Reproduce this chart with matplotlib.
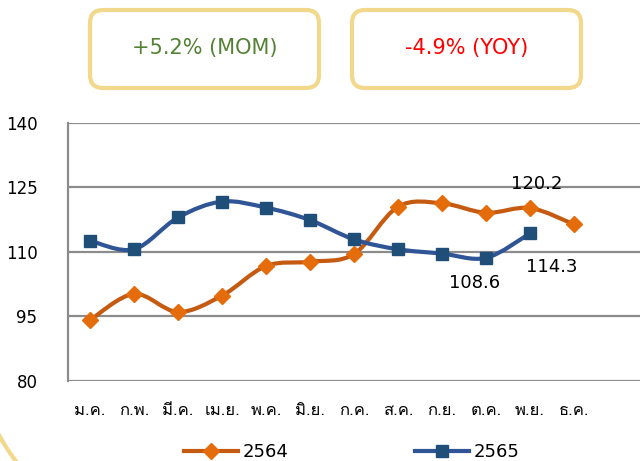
import numpy as np
import matplotlib
matplotlib.use("Agg")
import matplotlib.pyplot as plt
from matplotlib import font_manager as fm
from matplotlib.ft2font import FT2Font
from matplotlib.path import Path
from matplotlib.patches import PathPatch, FancyBboxPatch
from matplotlib.lines import Line2D

months = ["ม.ค.", "ก.พ.", "มี.ค.", "เม.ย.", "พ.ค.", "มิ.ย.", "ก.ค.", "ส.ค.", "ก.ย.", "ต.ค.", "พ.ย.", "ธ.ค."]
s2564 = [94.1, 100.2, 96.0, 99.8, 106.7, 107.7, 109.5, 120.5, 121.3, 119.1, 120.2, 116.4]
s2565 = [112.6, 110.6, 118.0, 121.7, 120.3, 117.4, 112.9, 110.6, 109.6, 108.6, 114.3]
yticks = [80, 95, 110, 125, 140]
mom_text = "+5.2% (MOM)"
yoy_text = "-4.9% (YOY)"


def find_font(ch):
    for f in fm.fontManager.ttflist:
        try:
            if ord(ch) in FT2Font(f.fname).get_charmap():
                return f.name
        except Exception:
            pass
    return None

thai = find_font("ม")
thai_family = [thai, "DejaVu Sans"] if thai else ["DejaVu Sans"]
base = "DejaVu Sans"

W, H = 642, 461
fig = plt.figure(figsize=(W / 100, H / 100), dpi=100)
ax = fig.add_axes([68 / W, 1 - 380.7 / H, (640 - 68) / W, (380.7 - 123) / H])

ORANGE_LINE = "#C55A11"
ORANGE_MK = "#E46C0A"
BLUE_LINE = "#2F5597"
BLUE_MK = "#1F4E79"
LW = 3.0


def smooth_path(xs, ys):
    pts = np.column_stack([xs, ys]).astype(float)
    n = len(pts)
    verts = [pts[0]]
    codes = [Path.MOVETO]
    for i in range(n - 1):
        p0 = pts[i - 1] if i > 0 else pts[i]
        p1 = pts[i]
        p2 = pts[i + 1]
        p3 = pts[i + 2] if i + 2 < n else pts[i + 1]
        c1 = p1 + (p2 - p0) / 6.0
        c2 = p2 - (p3 - p1) / 6.0
        verts += [c1, c2, p2]
        codes += [Path.CURVE4] * 3
    return Path(verts, codes)


x1 = np.arange(len(s2564))
x2 = np.arange(len(s2565))
ax.add_patch(PathPatch(smooth_path(x1, s2564), fill=False, ec=ORANGE_LINE, lw=LW,
                       capstyle="round", joinstyle="round", zorder=3))
ax.add_patch(PathPatch(smooth_path(x2, s2565), fill=False, ec=BLUE_LINE, lw=LW,
                       capstyle="round", joinstyle="round", zorder=3))
ax.plot(x1, s2564, ls="none", marker="D", ms=8, color=ORANGE_MK, zorder=4)
ax.plot(x2, s2565, ls="none", marker="s", ms=8, color=BLUE_MK, zorder=4)

ax.set_xlim(-0.5, 12.5)
ax.set_ylim(80, 140)
ax.set_yticks(yticks)
ax.set_yticklabels([str(v) for v in yticks], fontsize=12, family=base)
ax.set_xticks(x1)
ax.set_xticklabels(months, fontsize=12, family=thai_family)
ax.tick_params(axis="y", length=0, pad=22)
ax.tick_params(axis="x", length=0, pad=16)
ax.grid(axis="y", color="#8C8C8C", lw=1.6)
ax.set_axisbelow(True)
for s in ["top", "right", "bottom"]:
    ax.spines[s].set_visible(False)
ax.spines["left"].set_color("#8C8C8C")
ax.spines["left"].set_linewidth(1.6)

# data labels
ax.annotate(f"{s2564[10]:.1f}", (10, s2564[10]), xytext=(5, 17), textcoords="offset points",
            ha="center", va="center", fontsize=13, family=base)
ax.annotate(f"{s2565[9]:.1f}", (9, s2565[9]), xytext=(-8, -18), textcoords="offset points",
            ha="center", va="center", fontsize=13, family=base)
ax.annotate(f"{s2565[10]:.1f}", (10, s2565[10]), xytext=(16, -24), textcoords="offset points",
            ha="center", va="center", fontsize=13, family=base)

# legend
handles = [Line2D([], [], color=ORANGE_LINE, lw=LW, marker="D", ms=8, mfc=ORANGE_MK, mec=ORANGE_MK),
           Line2D([], [], color=BLUE_LINE, lw=LW, marker="s", ms=8, mfc=BLUE_MK, mec=BLUE_MK)]
fig.legend(handles, ["2564", "2565"], loc="center", bbox_to_anchor=(352 / W, 1 - 452 / H),
           ncol=2, frameon=False, prop={"family": base, "size": 13}, handlelength=3,
           handletextpad=0.25, columnspacing=7.0, borderpad=0, markerscale=1)

# decorations overlay
ov = fig.add_axes([0, 0, 1, 1], zorder=-1)
ov.set_xlim(0, W)
ov.set_ylim(H, 0)
ov.axis("off")
BOX = "#F1D88A"
for (bx0, bx1), txt, col in [((90, 319), mom_text, "#548235"), ((352, 581), yoy_text, "#FF0000")]:
    ov.add_patch(FancyBboxPatch((bx0, 10), bx1 - bx0, 78, boxstyle="round,pad=0,rounding_size=13",
                                fc="white", ec=BOX, lw=3))
    fig.text((bx0 + bx1) / 2 / W, 1 - 48 / H, txt, ha="center", va="center", fontsize=15,
             color=col, family=base)
th = np.deg2rad(np.linspace(156, 134, 60))
ov.plot(190 + 218 * np.cos(th), 330 + 218 * np.sin(th), color=BOX, lw=3)

fig.savefig("out.png", dpi=100)
